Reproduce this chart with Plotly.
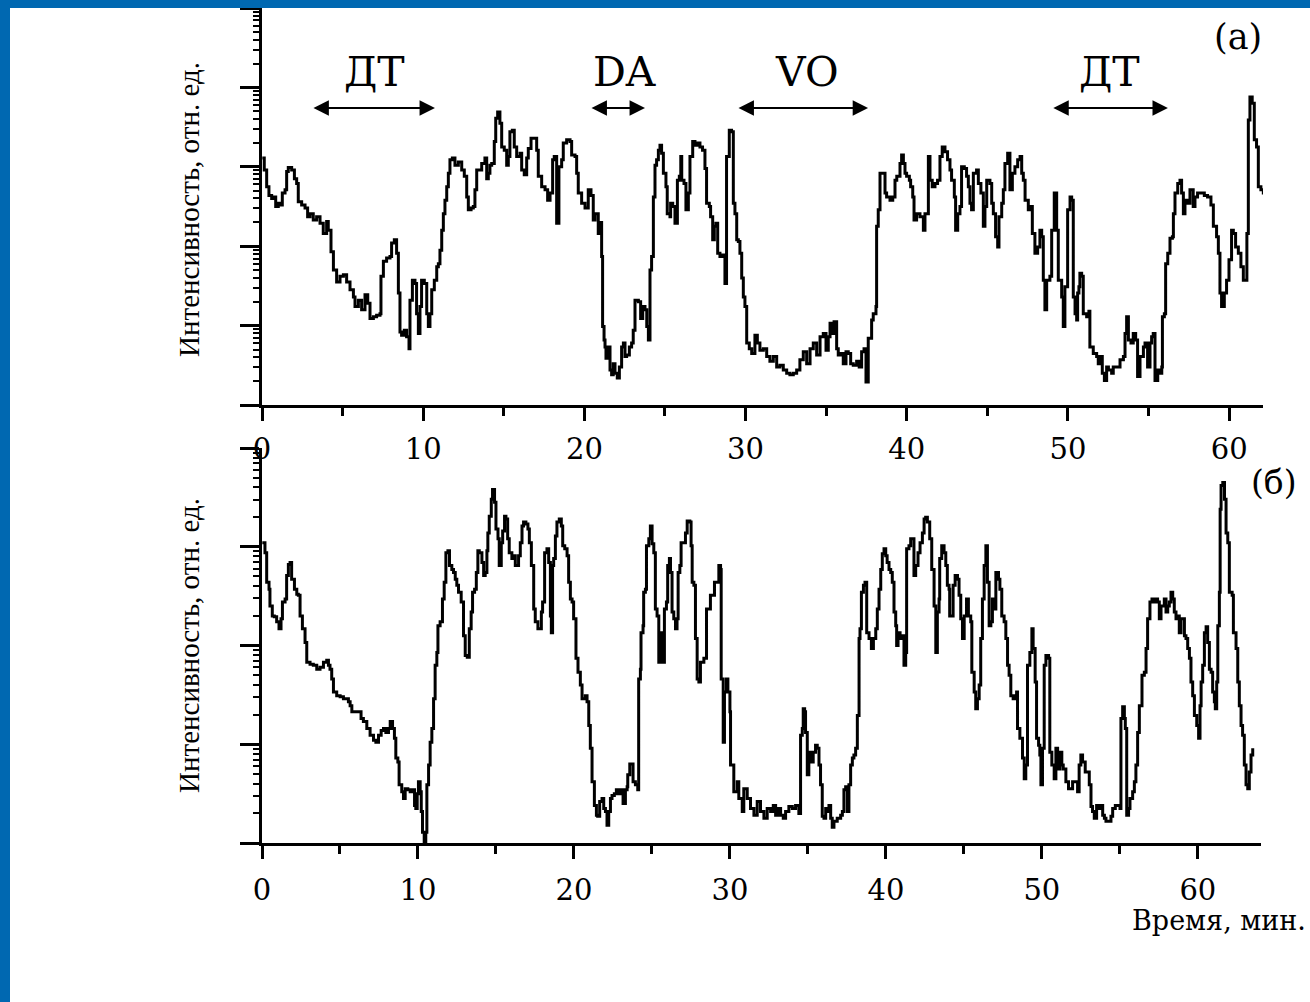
import numpy as np
import plotly.graph_objects as go

# ---------------- data ----------------
# time in minutes, intensity given as log10 of relative units (log y axis)
top_time = [
    0.02, 0.14, 0.29, 0.43, 0.60, 0.77, 0.85, 1.01, 1.18, 1.26,
    1.43, 1.53, 1.63, 1.84, 2.01, 2.15, 2.25, 2.46, 2.67, 2.83,
    2.98, 3.18, 3.39, 3.60, 3.80, 4.01, 4.11, 4.28, 4.43, 4.63,
    4.84, 5.05, 5.25, 5.46, 5.67, 5.77, 5.98, 6.18, 6.39, 6.56,
    6.70, 6.91, 7.11, 7.32, 7.38, 7.53, 7.73, 7.94, 8.04, 8.21,
    8.35, 8.46, 8.56, 8.66, 8.83, 8.97, 9.12, 9.18, 9.33, 9.49,
    9.59, 9.70, 9.80, 9.90, 10.07, 10.22, 10.32, 10.42, 10.53, 10.69,
    10.84, 10.94, 11.04, 11.15, 11.25, 11.35, 11.46, 11.56, 11.66, 11.81,
    11.97, 12.18, 12.39, 12.55, 12.70, 12.80, 12.97, 13.11, 13.21, 13.32,
    13.52, 13.63, 13.83, 13.94, 14.04, 14.14, 14.25, 14.41, 14.50, 14.62,
    14.76, 14.87, 15.03, 15.18, 15.28, 15.38, 15.53, 15.65, 15.80, 16.01,
    16.11, 16.27, 16.42, 16.52, 16.69, 16.89, 17.04, 17.14, 17.35, 17.56,
    17.72, 17.87, 18.03, 18.13, 18.28, 18.42, 18.59, 18.69, 18.90, 19.11,
    19.21, 19.42, 19.52, 19.62, 19.83, 20.04, 20.24, 20.41, 20.55, 20.66,
    20.86, 20.97, 21.07, 21.13, 21.22, 21.28, 21.34, 21.48, 21.59, 21.69,
    21.79, 21.90, 22.04, 22.17, 22.31, 22.42, 22.52, 22.62, 22.79, 22.93,
    23.03, 23.14, 23.35, 23.49, 23.62, 23.76, 23.87, 23.97, 24.07, 24.17,
    24.28, 24.38, 24.48, 24.59, 24.69, 24.79, 24.90, 25.06, 25.14, 25.31,
    25.35, 25.48, 25.62, 25.77, 25.89, 25.98, 26.04, 26.18, 26.30, 26.45,
    26.55, 26.72, 26.86, 27.01, 27.17, 27.33, 27.48, 27.58, 27.75, 27.83,
    27.96, 28.06, 28.16, 28.27, 28.41, 28.58, 28.72, 28.82, 28.99, 29.13,
    29.24, 29.34, 29.45, 29.55, 29.65, 29.76, 29.86, 29.96, 30.07, 30.23,
    30.38, 30.58, 30.73, 30.89, 31.10, 31.31, 31.51, 31.72, 31.93, 32.13,
    32.34, 32.55, 32.75, 32.96, 33.17, 33.37, 33.58, 33.79, 34.00, 34.20,
    34.41, 34.62, 34.82, 34.99, 35.13, 35.24, 35.34, 35.49, 35.65, 35.75,
    35.90, 36.06, 36.23, 36.37, 36.52, 36.68, 36.89, 37.05, 37.20, 37.35,
    37.47, 37.61, 37.82, 37.92, 38.09, 38.13, 38.23, 38.34, 38.54, 38.65,
    38.75, 38.96, 39.13, 39.27, 39.38, 39.58, 39.68, 39.79, 39.89, 39.99,
    40.16, 40.24, 40.37, 40.45, 40.61, 40.82, 41.03, 41.13, 41.34, 41.44,
    41.58, 41.75, 41.91, 42.06, 42.20, 42.37, 42.53, 42.68, 42.78, 42.95,
    43.03, 43.16, 43.30, 43.40, 43.57, 43.71, 43.82, 43.92, 44.02, 44.13,
    44.33, 44.44, 44.60, 44.75, 44.85, 44.96, 45.16, 45.27, 45.37, 45.51,
    45.64, 45.72, 45.89, 45.99, 46.09, 46.26, 46.40, 46.55, 46.71, 46.88,
    47.03, 47.13, 47.23, 47.34, 47.54, 47.71, 47.79, 47.95, 48.12, 48.26,
    48.37, 48.47, 48.57, 48.68, 48.88, 48.99, 49.15, 49.30, 49.40, 49.61,
    49.71, 49.81, 49.98, 50.13, 50.23, 50.33, 50.44, 50.54, 50.60, 50.68,
    50.74, 50.85, 50.95, 51.16, 51.30, 51.36, 51.57, 51.78, 51.88, 52.05,
    52.13, 52.26, 52.40, 52.51, 52.71, 52.81, 53.02, 53.23, 53.44, 53.54,
    53.64, 53.75, 53.91, 54.05, 54.20, 54.32, 54.47, 54.68, 54.78, 54.94,
    55.09, 55.19, 55.29, 55.40, 55.57, 55.71, 55.82, 55.86, 55.98, 56.06,
    56.19, 56.33, 56.48, 56.54, 56.64, 56.81, 56.95, 57.05, 57.16, 57.26,
    57.42, 57.57, 57.77, 57.88, 58.04, 58.25, 58.46, 58.66, 58.87, 59.02,
    59.22, 59.33, 59.43, 59.53, 59.70, 59.84, 59.99, 60.15, 60.26, 60.40,
    60.57, 60.73, 60.88, 61.02, 61.10, 61.19, 61.29, 61.43, 61.56, 61.70,
    61.81, 61.97, 62.12, 62.23, 62.44, 62.72,
]
top_log_intensity = [
    3.11, 2.96, 2.75, 2.64, 2.60, 2.62, 2.50, 2.54, 2.52, 2.67,
    2.71, 2.94, 2.99, 2.96, 2.85, 2.79, 2.56, 2.52, 2.48, 2.37,
    2.41, 2.33, 2.37, 2.29, 2.16, 2.31, 2.20, 1.93, 1.70, 1.55,
    1.62, 1.64, 1.55, 1.45, 1.36, 1.24, 1.32, 1.20, 1.39, 1.28,
    1.09, 1.11, 1.13, 1.15, 1.62, 1.81, 1.85, 1.87, 2.04, 2.08,
    1.91, 1.41, 0.92, 0.88, 0.94, 0.86, 0.71, 1.32, 1.57, 1.53,
    1.15, 0.90, 1.24, 1.57, 1.53, 1.15, 0.99, 1.15, 1.45, 1.57,
    1.74, 1.78, 1.95, 2.20, 2.41, 2.58, 2.75, 2.92, 3.09, 3.11,
    3.02, 3.06, 2.96, 2.88, 2.62, 2.46, 2.48, 2.50, 2.71, 2.96,
    2.96, 3.04, 3.11, 2.85, 2.92, 3.02, 3.04, 3.32, 3.61, 3.69,
    3.55, 3.25, 3.21, 3.02, 3.13, 3.44, 3.46, 3.25, 3.13, 3.17,
    2.96, 2.90, 3.11, 3.23, 3.36, 3.36, 3.21, 2.88, 2.75, 2.71,
    2.58, 2.67, 3.09, 3.13, 2.29, 3.00, 3.09, 3.30, 3.34, 3.32,
    3.15, 3.13, 2.92, 2.67, 2.54, 2.48, 2.71, 2.64, 2.33, 2.41,
    2.16, 2.30, 1.87, 0.99, 0.82, 0.73, 0.59, 0.73, 0.44, 0.38,
    0.52, 0.40, 0.34, 0.48, 0.73, 0.78, 0.61, 0.63, 0.73, 0.78,
    0.94, 1.32, 1.30, 1.09, 1.24, 1.20, 0.99, 0.82, 1.70, 1.87,
    2.62, 3.02, 3.09, 3.21, 3.27, 3.17, 2.92, 2.75, 2.41, 2.37,
    2.54, 2.50, 2.29, 2.83, 2.88, 3.13, 2.83, 2.79, 2.46, 2.67,
    3.13, 3.32, 3.27, 3.30, 3.25, 3.21, 2.98, 2.54, 2.50, 2.37,
    2.08, 2.25, 2.29, 1.91, 1.87, 1.89, 1.53, 3.13, 3.46, 3.44,
    2.54, 2.41, 2.08, 2.06, 1.91, 1.60, 1.36, 1.24, 0.78, 0.71,
    0.65, 0.88, 0.78, 0.69, 0.71, 0.61, 0.55, 0.61, 0.48, 0.50,
    0.44, 0.40, 0.38, 0.40, 0.44, 0.57, 0.67, 0.52, 0.71, 0.78,
    0.63, 0.86, 0.90, 0.69, 0.86, 1.03, 0.90, 1.05, 0.71, 0.63,
    0.65, 0.52, 0.67, 0.65, 0.52, 0.50, 0.55, 0.48, 0.67, 0.71,
    0.29, 0.84, 1.07, 1.15, 1.24, 2.25, 2.46, 2.92, 2.92, 2.67,
    2.62, 2.58, 2.62, 2.83, 2.88, 3.04, 3.15, 3.04, 2.92, 2.88,
    2.83, 2.75, 2.62, 2.33, 2.41, 2.37, 2.20, 2.41, 3.13, 2.83,
    2.75, 2.79, 2.83, 3.13, 3.25, 3.19, 3.09, 2.96, 2.83, 2.62,
    2.20, 2.41, 2.50, 3.00, 2.98, 2.88, 2.75, 2.54, 2.46, 2.92,
    2.96, 2.79, 2.67, 2.25, 2.50, 2.83, 2.79, 2.54, 2.41, 2.12,
    1.99, 2.37, 2.54, 2.71, 3.04, 3.17, 2.71, 2.92, 3.00, 3.09,
    3.13, 2.92, 2.83, 2.58, 2.46, 2.50, 2.16, 1.91, 1.99, 2.20,
    2.12, 1.57, 1.20, 1.57, 1.62, 2.20, 2.67, 2.20, 1.57, 1.36,
    0.99, 1.49, 2.46, 2.62, 2.58, 1.36, 1.15, 1.07, 1.41, 1.49,
    1.66, 1.62, 1.15, 1.11, 1.18, 0.73, 0.65, 0.61, 0.52, 0.61,
    0.40, 0.31, 0.48, 0.44, 0.40, 0.48, 0.48, 0.57, 0.61, 0.90,
    1.11, 0.82, 0.78, 0.90, 0.82, 0.36, 0.61, 0.73, 0.78, 0.48,
    0.78, 0.86, 0.90, 0.31, 0.44, 0.40, 0.48, 1.11, 1.15, 1.78,
    1.91, 2.10, 2.12, 2.41, 2.67, 2.79, 2.83, 2.67, 2.41, 2.58,
    2.54, 2.71, 2.50, 2.62, 2.67, 2.67, 2.64, 2.62, 2.52, 2.25,
    2.12, 1.91, 1.41, 1.24, 1.41, 1.57, 1.83, 2.20, 2.16, 1.99,
    1.91, 1.74, 1.57, 1.57, 2.16, 3.59, 3.88, 3.80, 3.34, 3.25,
    2.75, 2.71, 2.67, 2.08, 1.99, 1.41,
]

bottom_time = [
    0.02, 0.19, 0.30, 0.45, 0.51, 0.66, 0.79, 0.94, 1.09, 1.22,
    1.31, 1.48, 1.58, 1.69, 1.80, 1.90, 2.08, 2.23, 2.33, 2.44,
    2.59, 2.76, 2.87, 3.08, 3.29, 3.51, 3.72, 3.94, 4.15, 4.26,
    4.36, 4.47, 4.58, 4.79, 5.01, 5.22, 5.43, 5.54, 5.65, 5.76,
    5.97, 6.18, 6.35, 6.50, 6.72, 6.93, 7.15, 7.30, 7.47, 7.64,
    7.79, 7.94, 8.11, 8.22, 8.37, 8.49, 8.58, 8.71, 8.79, 8.96,
    9.07, 9.18, 9.35, 9.50, 9.65, 9.78, 9.86, 9.95, 10.03, 10.14,
    10.21, 10.29, 10.40, 10.50, 10.57, 10.68, 10.78, 10.89, 11.00, 11.10,
    11.21, 11.28, 11.42, 11.57, 11.68, 11.79, 11.92, 12.02, 12.17, 12.28,
    12.39, 12.49, 12.60, 12.77, 12.92, 13.03, 13.16, 13.29, 13.41, 13.50,
    13.63, 13.74, 13.84, 13.93, 14.10, 14.21, 14.31, 14.42, 14.48, 14.57,
    14.70, 14.78, 14.87, 14.91, 15.00, 15.13, 15.21, 15.34, 15.43, 15.55,
    15.64, 15.75, 15.85, 16.02, 16.13, 16.24, 16.35, 16.45, 16.56, 16.67,
    16.77, 16.92, 17.05, 17.14, 17.27, 17.42, 17.52, 17.69, 17.78, 17.91,
    17.99, 18.12, 18.27, 18.38, 18.49, 18.55, 18.63, 18.70, 18.81, 18.91,
    19.06, 19.19, 19.28, 19.41, 19.56, 19.66, 19.77, 19.88, 19.98, 20.13,
    20.26, 20.41, 20.52, 20.62, 20.73, 20.84, 20.95, 21.05, 21.16, 21.31,
    21.44, 21.52, 21.65, 21.80, 21.91, 22.02, 22.12, 22.23, 22.34, 22.44,
    22.59, 22.72, 22.87, 23.02, 23.15, 23.30, 23.41, 23.45, 23.58, 23.73,
    23.79, 23.94, 24.09, 24.15, 24.26, 24.30, 24.43, 24.47, 24.58, 24.65,
    24.80, 24.90, 25.01, 25.12, 25.22, 25.33, 25.44, 25.55, 25.65, 25.72,
    25.80, 25.93, 26.01, 26.12, 26.19, 26.29, 26.40, 26.51, 26.61, 26.68,
    26.79, 26.87, 27.04, 27.15, 27.26, 27.43, 27.51, 27.58, 27.69, 27.79,
    27.90, 28.01, 28.11, 28.33, 28.50, 28.75, 29.01, 29.29, 29.40, 29.44,
    29.57, 29.65, 29.78, 29.87, 30.00, 30.04, 30.25, 30.47, 30.57, 30.79,
    30.89, 31.11, 31.32, 31.54, 31.75, 31.96, 32.18, 32.39, 32.61, 32.78,
    32.93, 33.08, 33.25, 33.42, 33.57, 33.78, 34.00, 34.21, 34.42, 34.53,
    34.64, 34.70, 34.79, 34.85, 34.96, 35.06, 35.17, 35.34, 35.49, 35.60,
    35.71, 35.81, 35.92, 36.03, 36.14, 36.24, 36.35, 36.46, 36.56, 36.67,
    36.88, 37.10, 37.21, 37.31, 37.42, 37.53, 37.63, 37.74, 37.85, 37.95,
    38.06, 38.17, 38.28, 38.34, 38.43, 38.56, 38.66, 38.77, 38.92, 39.07,
    39.20, 39.35, 39.45, 39.56, 39.67, 39.77, 39.88, 39.99, 40.08, 40.20,
    40.31, 40.41, 40.52, 40.63, 40.69, 40.78, 40.91, 41.06, 41.16, 41.27,
    41.33, 41.48, 41.59, 41.70, 41.80, 41.91, 42.06, 42.19, 42.34, 42.45,
    42.55, 42.66, 42.81, 42.94, 43.09, 43.20, 43.30, 43.41, 43.45, 43.58,
    43.73, 43.84, 43.94, 44.05, 44.09, 44.22, 44.31, 44.44, 44.59, 44.69,
    44.80, 44.91, 45.02, 45.17, 45.29, 45.44, 45.51, 45.66, 45.76, 45.87,
    45.98, 46.08, 46.19, 46.30, 46.41, 46.51, 46.62, 46.73, 46.83, 46.94,
    47.05, 47.22, 47.31, 47.43, 47.58, 47.69, 47.80, 47.90, 48.01, 48.16,
    48.29, 48.38, 48.44, 48.59, 48.76, 48.87, 48.97, 49.08, 49.23, 49.36,
    49.44, 49.57, 49.66, 49.79, 49.87, 49.94, 50.04, 50.15, 50.26, 50.43,
    50.51, 50.64, 50.79, 50.90, 51.01, 51.16, 51.28, 51.37, 51.54, 51.71,
    51.86, 51.97, 52.14, 52.29, 52.39, 52.50, 52.61, 52.78, 52.93, 53.04,
    53.15, 53.25, 53.36, 53.51, 53.64, 53.79, 53.90, 54.01, 54.11, 54.28,
    54.43, 54.54, 54.71, 54.86, 55.01, 55.07, 55.18, 55.29, 55.35, 55.44,
    55.56, 55.65, 55.82, 55.93, 56.03, 56.14, 56.25, 56.42, 56.57, 56.68,
    56.78, 56.93, 57.06, 57.21, 57.32, 57.42, 57.53, 57.64, 57.75, 57.85,
    57.96, 58.07, 58.17, 58.28, 58.39, 58.49, 58.60, 58.71, 58.81, 58.92,
    59.03, 59.14, 59.24, 59.35, 59.46, 59.56, 59.67, 59.78, 59.93, 60.05,
    60.14, 60.21, 60.31, 60.42, 60.53, 60.63, 60.74, 60.85, 60.95, 61.06,
    61.12, 61.21, 61.28, 61.38, 61.43, 61.49, 61.60, 61.71, 61.81, 61.92,
    62.02, 62.20, 62.28, 62.45, 62.56, 62.66, 62.77, 62.87, 62.98, 63.09,
    63.20, 63.30, 63.41, 63.52,
]
bottom_log_intensity = [
    3.04, 2.94, 2.64, 2.57, 2.40, 2.30, 2.29, 2.24, 2.17, 2.27,
    2.44, 2.47, 2.71, 2.82, 2.84, 2.67, 2.57, 2.52, 2.51, 2.30,
    2.17, 2.03, 1.83, 1.81, 1.80, 1.76, 1.78, 1.83, 1.85, 1.80,
    1.76, 1.66, 1.53, 1.49, 1.48, 1.46, 1.46, 1.43, 1.39, 1.33,
    1.33, 1.33, 1.26, 1.23, 1.16, 1.09, 1.04, 1.02, 1.09, 1.14,
    1.16, 1.12, 1.16, 1.23, 1.16, 1.06, 0.86, 0.82, 0.59, 0.52,
    0.45, 0.55, 0.54, 0.52, 0.54, 0.38, 0.35, 0.50, 0.62, 0.52,
    0.32, 0.11, 0.01, 0.11, 0.59, 0.79, 1.02, 1.16, 1.46, 1.80,
    1.93, 2.20, 2.24, 2.47, 2.64, 2.94, 2.96, 2.81, 2.77, 2.74,
    2.67, 2.61, 2.54, 2.44, 2.10, 1.90, 1.88, 2.17, 2.34, 2.54,
    2.57, 2.74, 2.96, 2.94, 2.84, 2.71, 2.74, 2.96, 3.14, 3.31,
    3.48, 3.58, 3.58, 3.45, 3.18, 3.08, 2.81, 3.04, 3.16, 3.31,
    3.28, 3.08, 2.94, 2.88, 2.91, 2.81, 2.81, 2.91, 3.04, 3.21,
    3.25, 3.23, 3.18, 3.04, 2.81, 2.37, 2.24, 2.17, 2.17, 2.34,
    2.44, 2.94, 2.98, 2.84, 2.30, 2.13, 2.81, 2.88, 3.11, 3.25,
    3.28, 3.21, 3.01, 2.98, 2.91, 2.64, 2.47, 2.44, 2.27, 1.87,
    1.73, 1.60, 1.46, 1.46, 1.49, 1.43, 1.19, 0.96, 0.62, 0.38,
    0.28, 0.27, 0.42, 0.45, 0.35, 0.32, 0.18, 0.32, 0.45, 0.48,
    0.50, 0.54, 0.50, 0.54, 0.40, 0.54, 0.57, 0.69, 0.80, 0.80,
    0.62, 0.59, 0.54, 1.66, 1.76, 2.13, 2.20, 2.54, 2.57, 3.01,
    3.08, 3.21, 3.03, 2.94, 2.37, 2.30, 1.83, 2.13, 2.07, 1.83,
    2.37, 2.44, 2.81, 2.88, 2.74, 2.34, 2.27, 2.17, 2.27, 2.74,
    2.81, 3.04, 3.04, 3.14, 3.26, 3.25, 3.01, 2.64, 2.61, 2.07,
    1.66, 1.63, 1.83, 1.87, 2.37, 2.51, 2.64, 2.81, 2.77, 1.66,
    1.02, 1.53, 1.66, 1.53, 1.33, 0.79, 0.52, 0.62, 0.45, 0.32,
    0.55, 0.45, 0.35, 0.28, 0.42, 0.32, 0.25, 0.35, 0.32, 0.38,
    0.28, 0.35, 0.28, 0.25, 0.32, 0.37, 0.35, 0.38, 0.30, 1.09,
    1.16, 1.36, 1.33, 1.12, 0.69, 0.92, 0.82, 0.92, 0.99, 0.96,
    0.79, 0.59, 0.27, 0.25, 0.35, 0.32, 0.38, 0.25, 0.16, 0.22,
    0.25, 0.28, 0.32, 0.54, 0.57, 0.32, 0.59, 0.79, 0.86, 0.89,
    0.96, 1.29, 2.07, 2.17, 2.54, 2.61, 2.64, 2.13, 2.07, 1.97,
    2.07, 2.17, 2.37, 2.57, 2.77, 2.93, 2.98, 2.91, 2.84, 2.77,
    2.74, 2.64, 2.34, 2.20, 2.00, 2.13, 2.07, 2.10, 1.80, 1.93,
    2.98, 3.01, 3.08, 3.08, 2.71, 2.81, 2.94, 3.04, 3.14, 3.28,
    3.30, 3.25, 3.08, 2.77, 2.40, 1.93, 2.34, 2.47, 2.88, 3.01,
    2.94, 2.81, 2.61, 2.57, 2.30, 2.30, 2.61, 2.71, 2.67, 2.51,
    2.27, 2.07, 2.30, 2.47, 2.30, 2.24, 1.73, 1.53, 1.36, 1.46,
    1.60, 2.07, 2.47, 2.81, 3.01, 2.64, 2.20, 2.24, 2.47, 2.37,
    2.74, 2.67, 2.57, 2.30, 2.24, 2.07, 1.80, 1.70, 1.49, 1.46,
    1.49, 1.53, 1.16, 1.06, 0.86, 0.65, 0.79, 1.80, 1.93, 2.17,
    1.97, 1.63, 1.06, 0.99, 0.89, 0.59, 0.96, 1.80, 1.90, 1.87,
    0.92, 0.79, 0.65, 0.96, 0.75, 0.92, 0.79, 0.75, 0.62, 0.55,
    0.55, 0.62, 0.62, 0.52, 0.79, 0.89, 0.82, 0.72, 0.72, 0.59,
    0.37, 0.32, 0.25, 0.38, 0.35, 0.38, 0.28, 0.25, 0.22, 0.22,
    0.27, 0.35, 0.38, 0.38, 0.35, 1.26, 1.38, 1.26, 1.16, 0.28,
    0.35, 0.45, 0.52, 0.62, 0.79, 1.12, 1.39, 1.70, 1.73, 1.97,
    2.27, 2.44, 2.47, 2.44, 2.47, 2.44, 2.27, 2.40, 2.40, 2.47,
    2.34, 2.40, 2.44, 2.54, 2.47, 2.34, 2.27, 2.30, 2.13, 2.27,
    2.27, 2.10, 2.07, 1.97, 1.87, 1.63, 1.49, 1.29, 1.19, 1.06,
    1.39, 1.63, 1.80, 2.13, 2.19, 2.03, 1.76, 1.73, 1.53, 1.43,
    1.36, 1.63, 2.20, 2.54, 3.38, 3.62, 3.65, 3.48, 3.14, 3.04,
    2.54, 2.51, 2.13, 1.97, 1.63, 1.39, 1.19, 1.09, 0.79, 0.59,
    0.55, 0.72, 0.89, 0.96,
]

x_tick_values = [0, 10, 20, 30, 40, 50, 60]
x_tick_labels = ["0", "10", "20", "30", "40", "50", "60"]
x_minor_values = [5, 15, 25, 35, 45, 55]

phase_names = ["ДТ", "DA", "VO", "ДТ"]
phase_start = [3.1, 20.35, 29.47, 49.0]
phase_end = [10.73, 23.76, 37.6, 56.2]
phase_label_x = [6.95, 22.5, 33.8, 52.6]

y_title = "Интенсивность, отн. ед."
x_title = "Время, мин."
panel_tags = ["(a)", "(б)"]

# ---------------- figure ----------------
W, H = 1310, 1002
def px(x):
    return x / W
def py(y):
    return 1 - y / H

SERIF = "DejaVu Serif"
TIMES = "Liberation Serif, Times New Roman, Times, serif"

fig = go.Figure()
fig.add_trace(go.Scatter(
    x=top_time, y=np.power(10.0, top_log_intensity),
    mode="lines", line=dict(color="black", width=3, shape="hv"),
    xaxis="x", yaxis="y", showlegend=False, hoverinfo="skip"))
fig.add_trace(go.Scatter(
    x=bottom_time, y=np.power(10.0, bottom_log_intensity),
    mode="lines", line=dict(color="black", width=3, shape="hv"),
    xaxis="x2", yaxis="y2", showlegend=False, hoverinfo="skip"))

def xaxis_style(domain, rng, standoff):
    return dict(
        domain=domain, range=rng, showline=True, linewidth=3, linecolor="black",
        ticks="outside", ticklen=13, tickwidth=2.5, tickcolor="black",
        tickmode="array", tickvals=x_tick_values, ticktext=x_tick_labels,
        tickfont=dict(family=SERIF, size=29, color="black"),
        ticklabelstandoff=standoff, automargin=False,
        minor=dict(ticks="outside", ticklen=8, tickwidth=2.5, tickcolor="black",
                   tickmode="array", tickvals=x_minor_values),
        showgrid=False, zeroline=False, fixedrange=True,
    )

def yaxis_style(domain, rng):
    return dict(
        type="log", domain=domain, range=rng, showline=True, linewidth=3,
        linecolor="black", ticks="outside", ticklen=19, tickwidth=2.5,
        tickcolor="black", dtick=1, showticklabels=False, automargin=False,
        minor=dict(ticks="outside", ticklen=6, tickwidth=2, tickcolor="black",
                   dtick="D1"),
        showgrid=False, zeroline=False, fixedrange=True,
    )

fig.update_layout(
    width=W, height=H,
    margin=dict(l=0, r=0, t=0, b=0, pad=0, autoexpand=False),
    paper_bgcolor="white", plot_bgcolor="white",
    showlegend=False,
    xaxis=dict(anchor="y", **xaxis_style([px(262), px(1263)], [0, 62.1], 3)),
    yaxis=dict(anchor="x", **yaxis_style([py(405), py(8)], [0, 5])),
    xaxis2=dict(anchor="y2", **xaxis_style([px(262), px(1261)], [0, 64.05], 6)),
    yaxis2=dict(anchor="x2", **yaxis_style([py(843), py(448)], [0, 4])),
)

annotations = []
# phase labels and double arrows (top panel)
for name, x0, x1, xc in zip(phase_names, phase_start, phase_end, phase_label_x):
    annotations.append(dict(
        xref="x", yref="paper", x=xc, y=py(72), text=name, showarrow=False,
        xanchor="center", yanchor="middle",
        font=dict(family=SERIF, size=41, color="black")))
    annotations.append(dict(
        xref="x", yref="paper", x=x1, y=py(108), axref="x", ax=x0,
        ayref="pixel", ay=0, text="", showarrow=True, arrowside="end+start",
        arrowhead=2, arrowsize=1.4, arrowwidth=2.2, arrowcolor="black"))

# panel tags
annotations.append(dict(xref="paper", yref="paper", x=px(1238), y=py(37),
                        text=panel_tags[0], showarrow=False,
                        xanchor="center", yanchor="middle",
                        font=dict(family=SERIF, size=35, color="black")))
annotations.append(dict(xref="paper", yref="paper", x=px(1274), y=py(483),
                        text=panel_tags[1], showarrow=False,
                        xanchor="center", yanchor="middle",
                        font=dict(family=SERIF, size=33, color="black")))
# y titles
for yc in (210, 646):
    annotations.append(dict(xref="paper", yref="paper", x=px(189), y=py(yc),
                            text=y_title, showarrow=False, textangle=-90,
                            xanchor="center", yanchor="middle",
                            font=dict(family=TIMES, size=29, color="black")))
# x title
annotations.append(dict(xref="paper", yref="paper", x=px(1308), y=py(920),
                        text=x_title, showarrow=False, xanchor="right",
                        yanchor="middle",
                        font=dict(family=SERIF, size=27, color="black")))
fig.update_layout(annotations=annotations)

# blue slide frame (top and left bands)
BLUE = "#0068b1"
fig.add_shape(type="rect", xref="paper", yref="paper", x0=0, x1=1,
              y0=py(8), y1=1, fillcolor=BLUE, line=dict(width=0), layer="above")
fig.add_shape(type="rect", xref="paper", yref="paper", x0=0, x1=px(10),
              y0=0, y1=1, fillcolor=BLUE, line=dict(width=0), layer="above")

# pin the plot to the top-left corner of the window
pin_script = (
    "document.documentElement.style.margin='0px';"
    "document.body.style.margin='0px';"
    "document.body.style.padding='0px';"
    "var gd=document.getElementById('{plot_id}');"
    "gd.style.position='fixed';gd.style.left='0px';gd.style.top='0px';"
    "gd.style.margin='0px';"
)
fig.write_html("out.html", post_script=pin_script)
